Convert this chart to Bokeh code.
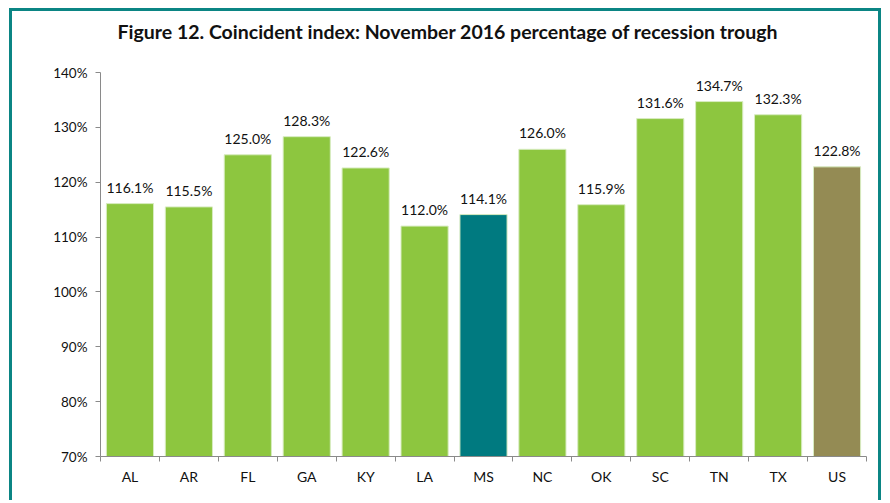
from bokeh.plotting import figure
from bokeh.models import (Range1d, LinearAxis, FixedTicker, Title,
                          ColumnDataSource, LabelSet, NumeralTickFormatter)
from bokeh.core.properties import value
from bokeh.embed import file_html
from bokeh.resources import INLINE

states = ["AL", "AR", "FL", "GA", "KY", "LA", "MS", "NC", "OK", "SC", "TN", "TX", "US"]
values = [116.1, 115.5, 125.0, 128.3, 122.6, 112.0, 114.1, 126.0, 115.9, 131.6, 134.7, 132.3, 122.8]
y_ticks = [70, 80, 90, 100, 110, 120, 130, 140]
title_text = "Figure 12. Coincident index:  November 2016 percentage of recession trough"

GREEN = "#8dc63f"
TEAL = "#007a80"
OLIVE = "#948b54"
BORDER = "#0b8584"
colors = [TEAL if s == "MS" else OLIVE if s == "US" else GREEN for s in states]
labels = [f"{v:.1f}%" for v in values]
n = len(states)
xpos = [i + 0.5 for i in range(n)]

src = ColumnDataSource(dict(x=xpos, top=values, color=colors, label=labels))

FONT = "Lato"
p = figure(width=872, height=492, x_range=Range1d(0, n), y_range=Range1d(70, 140),
           output_backend="svg", toolbar_location=None, x_axis_location=None,
           min_border_left=88, min_border_right=18, min_border_top=59, min_border_bottom=47,
           styles={"border-top": f"3px solid {BORDER}", "border-left": f"3px solid {BORDER}",
                   "border-right": f"3px solid {BORDER}", "margin-left": "9px",
                   "margin-top": "8px"})
p.outline_line_color = None
p.xgrid.grid_line_color = None
p.ygrid.grid_line_color = None

p.vbar(x="x", top="top", bottom=70, width=0.8, fill_color="color",
       line_color="#d8ecc0", line_width=1, source=src)

p.add_layout(LabelSet(x="x", y="top", text="label", source=src, text_align="center",
                      text_baseline="bottom", y_offset=8, text_font=value(FONT),
                      text_font_size=value("14px"), text_color=value("#111111")))

# y axis
ya = p.yaxis[0]
ya.ticker = FixedTicker(ticks=y_ticks)
ya.formatter = NumeralTickFormatter(format="0")
ya.major_label_overrides = {t: f"{t}%" for t in y_ticks}
ya.axis_line_color = "#8a8a8a"
ya.major_tick_line_color = "#8a8a8a"
ya.major_tick_out = 5
ya.major_tick_in = 0
ya.minor_tick_line_color = None
ya.major_label_text_font = FONT
ya.major_label_text_font_size = "13.5px"
ya.major_label_text_color = "#111111"
ya.major_label_standoff = 8

# x axis: boundary ticks
bticks = list(range(n + 1))
xb = LinearAxis(ticker=FixedTicker(ticks=bticks),
                axis_line_color="#8a8a8a", major_tick_line_color="#8a8a8a",
                major_tick_out=5, major_tick_in=0, minor_tick_line_color=None,
                major_label_overrides={t: "" for t in bticks},
                major_label_text_font_size="1px", major_label_standoff=0)
p.add_layout(xb, "below")
xc = LinearAxis(ticker=FixedTicker(ticks=xpos), axis_line_color=None,
                major_tick_line_color=None, minor_tick_line_color=None,
                major_label_overrides={x: s for x, s in zip(xpos, states)},
                major_label_text_font=FONT, major_label_text_font_size="14px",
                major_label_text_color="#111111", major_label_standoff=0)
p.add_layout(xc, "below")

# spacer between title and plot area
p.add_layout(Title(text=" ", text_font_size="1px", standoff=21), "above")

p.title.text = title_text
p.title.text_font = FONT
p.title.text_font_size = "19.5px"
p.title.text_font_style = "bold"
p.title.text_color = "#111111"
p.title.align = "left"
p.title.offset = 17
p.title.vertical_align = "bottom"
p.title.standoff = 12

open("out.html", "w").write(file_html(p, INLINE))
